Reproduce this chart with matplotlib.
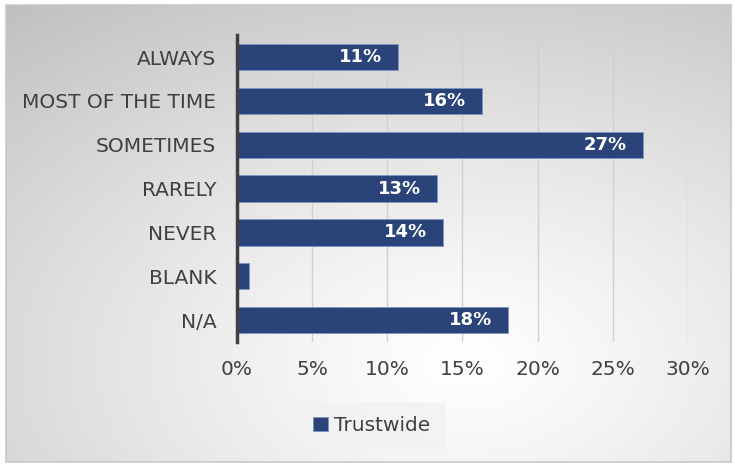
import numpy as np
import matplotlib
matplotlib.use("Agg")
import matplotlib.pyplot as plt
from matplotlib.patches import Rectangle
from matplotlib.ticker import FuncFormatter

categories = ["ALWAYS", "MOST OF THE TIME", "SOMETIMES", "RARELY", "NEVER", "BLANK", "N/A"]
values = [10.7, 16.3, 27.0, 13.3, 13.7, 0.8, 18.0]
labels = ["11%", "16%", "27%", "13%", "14%", "", "18%"]
xticks = [0, 5, 10, 15, 20, 25, 30]
series_name = "Trustwide"

plt.rcParams['font.family'] = ['DejaVu Sans']

fig = plt.figure(figsize=(7.35, 4.65), dpi=100)
fig.patch.set_facecolor('white')

# background gradient
bg = fig.add_axes([0.008, 0.006, 0.986, 0.983], zorder=0)
H, W = 300, 470
yy, xx = np.mgrid[0:H, 0:W]
cx, cy = 0.63 * W, 0.78 * H
d = np.sqrt(((xx - cx) / W) ** 2 + ((yy - cy) / H) ** 2)
d = d / d.max()
g = 1.0 - 0.25 * np.clip(d, 0, 1) ** 1.2
img = np.dstack([g, g, g])
bg.imshow(img, aspect='auto', extent=[0, 1, 0, 1], origin='upper')
bg.set_xlim(0, 1); bg.set_ylim(0, 1)
bg.axis('off')
fig.patches.append(Rectangle((0.008, 0.006), 0.986, 0.983, transform=fig.transFigure,
                             fill=False, edgecolor='#c8c8c8', linewidth=1.2, zorder=1))

ax = fig.add_axes([0.3224, 0.2645, 0.6136, 0.660], zorder=2)
ax.patch.set_alpha(0)
y = np.arange(len(categories))
bars = ax.barh(y, values, height=0.6, color='#2a4479', edgecolor='#7f96c4', linewidth=0.6,
               label=series_name, zorder=3)
for yi, v, lab in zip(y, values, labels):
    if lab:
        ax.text(v - 1.05, yi, lab, ha='right', va='center', color='white',
                fontsize=13, fontweight='bold', zorder=4)
ax.set_ylim(len(categories) - 0.5, -0.5)
ax.set_xlim(0, 30)
ax.set_xticks(xticks)
ax.xaxis.set_major_formatter(FuncFormatter(lambda v, p: f"{int(v)}%"))
ax.set_yticks(y)
ax.set_yticklabels(categories)
ax.tick_params(axis='both', length=0, labelsize=14.5, colors='#404040')
ax.tick_params(axis='x', pad=13)
ax.tick_params(axis='y', pad=15)
ax.grid(axis='x', color='#d0d0d0', linewidth=1, zorder=1)
for s in ['top', 'right', 'bottom']:
    ax.spines[s].set_visible(False)
ax.spines['left'].set_color('#404040')
ax.spines['left'].set_linewidth(2.5)
ax.spines['left'].set_zorder(5)

leg = fig.legend(handles=[bars], labels=[series_name], loc='center',
                 bbox_to_anchor=(0.506, 0.085), frameon=True, fontsize=14.5,
                 handlelength=0.75, handleheight=0.75, handletextpad=0.3,
                 borderpad=0.65, borderaxespad=0, fancybox=False)
leg.get_frame().set_facecolor('#f2f2f2')
leg.get_frame().set_edgecolor('#f2f2f2')
for t in leg.get_texts():
    t.set_color('#404040')

fig.savefig('out.png', dpi=100)
